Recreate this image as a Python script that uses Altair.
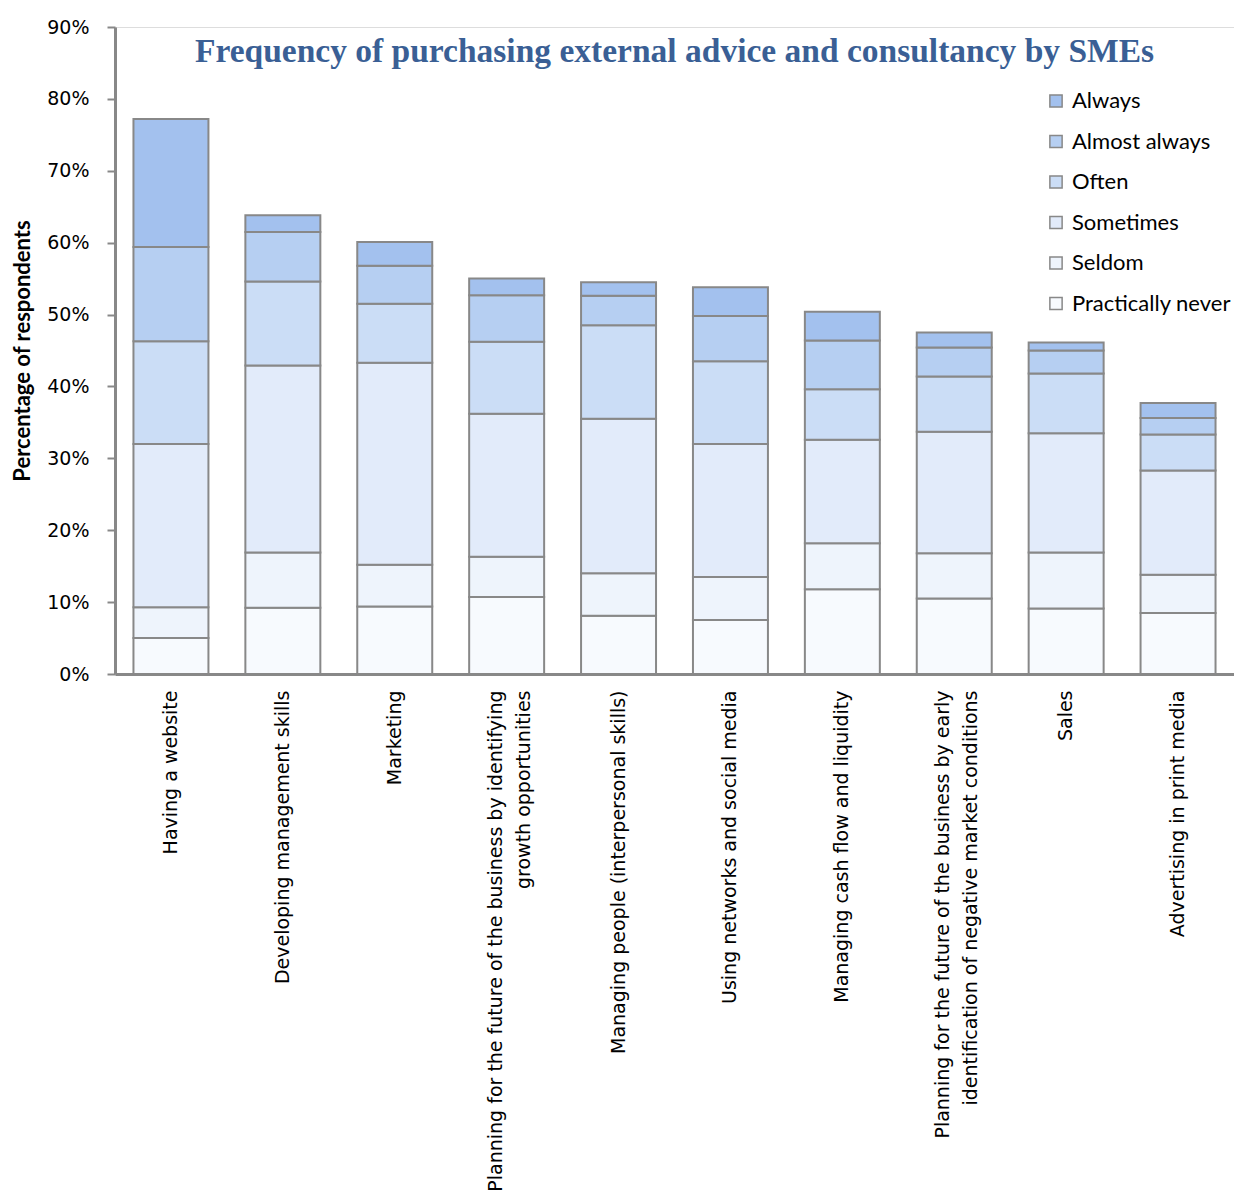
import altair as alt
import pandas as pd

categories = [
    "Having a website",
    "Developing management skills",
    "Marketing",
    "Planning for the future of the business by identifying\ngrowth opportunities",
    "Managing people (interpersonal skills)",
    "Using networks and social media",
    "Managing cash flow and liquidity",
    "Planning for the future of the business by early\nidentification of negative market conditions",
    "Sales",
    "Advertising in print media",
]

levels = ["Practically never", "Seldom", "Sometimes", "Often", "Almost always", "Always"]

practically_never = [5.0, 9.2, 9.4, 10.7, 8.1, 7.5, 11.8, 10.5, 9.1, 8.5]
seldom            = [4.3, 7.7, 5.8, 5.6, 5.9, 6.0, 6.4, 6.3, 7.8, 5.3]
sometimes         = [22.7, 26.0, 28.1, 19.9, 21.5, 18.5, 14.4, 16.9, 16.6, 14.5]
often             = [14.3, 11.7, 8.2, 10.0, 13.0, 11.5, 7.0, 7.7, 8.3, 5.0]
almost_always     = [13.1, 6.9, 5.3, 6.5, 4.1, 6.3, 6.8, 4.0, 3.2, 2.3]
always            = [17.8, 2.3, 3.3, 2.3, 1.9, 4.0, 4.0, 2.1, 1.1, 2.1]

series = [practically_never, seldom, sometimes, often, almost_always, always]

legend_order = ["Always", "Almost always", "Often", "Sometimes", "Seldom", "Practically never"]
legend_colors = ["#a3c1ee", "#b6cff2", "#cbddf6", "#e2ebfa", "#eef4fc", "#f7fafe"]

y_ticks = [0, 0.1, 0.2, 0.3, 0.4, 0.5, 0.6, 0.7, 0.8, 0.9]

rows = []
for rank, (lvl, vals) in enumerate(zip(levels, series)):
    for cat, v in zip(categories, vals):
        rows.append({"category": cat, "level": lvl, "rank": rank, "value": v / 100.0})
df = pd.DataFrame(rows)

AXIS_GRAY = "#888888"

chart = (
    alt.Chart(df)
    .mark_bar(stroke=AXIS_GRAY, strokeWidth=2)
    .encode(
        x=alt.X(
            "category:N",
            sort=categories,
            title=None,
            scale=alt.Scale(paddingInner=0.33, paddingOuter=0.165),
            axis=alt.Axis(
                labelAngle=-90,
                labelExpr="split(datum.label, '\\n')",
                labelFont="DejaVu Sans",
                labelFontSize=19,
                labelColor="#000000",
                labelPadding=16,
                labelLimit=0,
                labelLineHeight=28,
                labelOffset={
                    "condition": {"test": "indexof(datum.value, '\\n') >= 0", "value": -11},
                    "value": 0,
                },
                ticks=False,
                domainColor=AXIS_GRAY,
                domainWidth=3,
                grid=False,
            ),
        ),
        y=alt.Y(
            "value:Q",
            stack="zero",
            scale=alt.Scale(domain=[0, 0.9], nice=False),
            axis=alt.Axis(
                values=y_ticks,
                format=".0%",
                title="Percentage of respondents",
                titleFont="Lato",
                titleFontSize=22,
                titleFontWeight="bold",
                titleColor="#000000",
                titlePadding=12,
                labelFont="DejaVu Sans",
                labelFontSize=19,
                labelColor="#000000",
                labelPadding=18,
                tickSize=8,
                tickColor=AXIS_GRAY,
                tickWidth=2,
                domainColor=AXIS_GRAY,
                domainWidth=3,
                grid=False,
            ),
        ),
        color=alt.Color(
            "level:N",
            scale=alt.Scale(domain=legend_order, range=legend_colors),
            legend=alt.Legend(
                title=None,
                orient="none",
                legendX=930,
                legendY=63,
                symbolType="square",
                symbolSize=150,
                symbolStrokeColor=AXIS_GRAY,
                symbolStrokeWidth=1.5,
                symbolOpacity=1,
                labelFont="Lato",
                labelFontSize=22,
                labelColor="#000000",
                labelOffset=5,
                rowPadding=18.5,
            ),
        ),
        order=alt.Order("rank:Q", sort="ascending"),
    )
    .properties(
        width=1119,
        height=647,
        title=alt.TitleParams(
            "Frequency of purchasing external advice and consultancy by SMEs",
            font="Liberation Serif",
            fontSize=33.5,
            fontWeight="bold",
            color="#3a5f95",
            anchor="middle",
            frame="group",
            offset=-51,
        ),
        autosize=alt.AutoSizeParams(type="none"),
        padding={"left": 115, "top": 27, "right": 0, "bottom": 525},
    )
    .configure_view(stroke="transparent", strokeWidth=0)
    .configure_axis(grid=False, gridColor="#ff0000", tickColor=AXIS_GRAY)
    .configure(background="#ffffff")
)

chart.save("out.html", embed_options={"renderer": "svg", "actions": False})
